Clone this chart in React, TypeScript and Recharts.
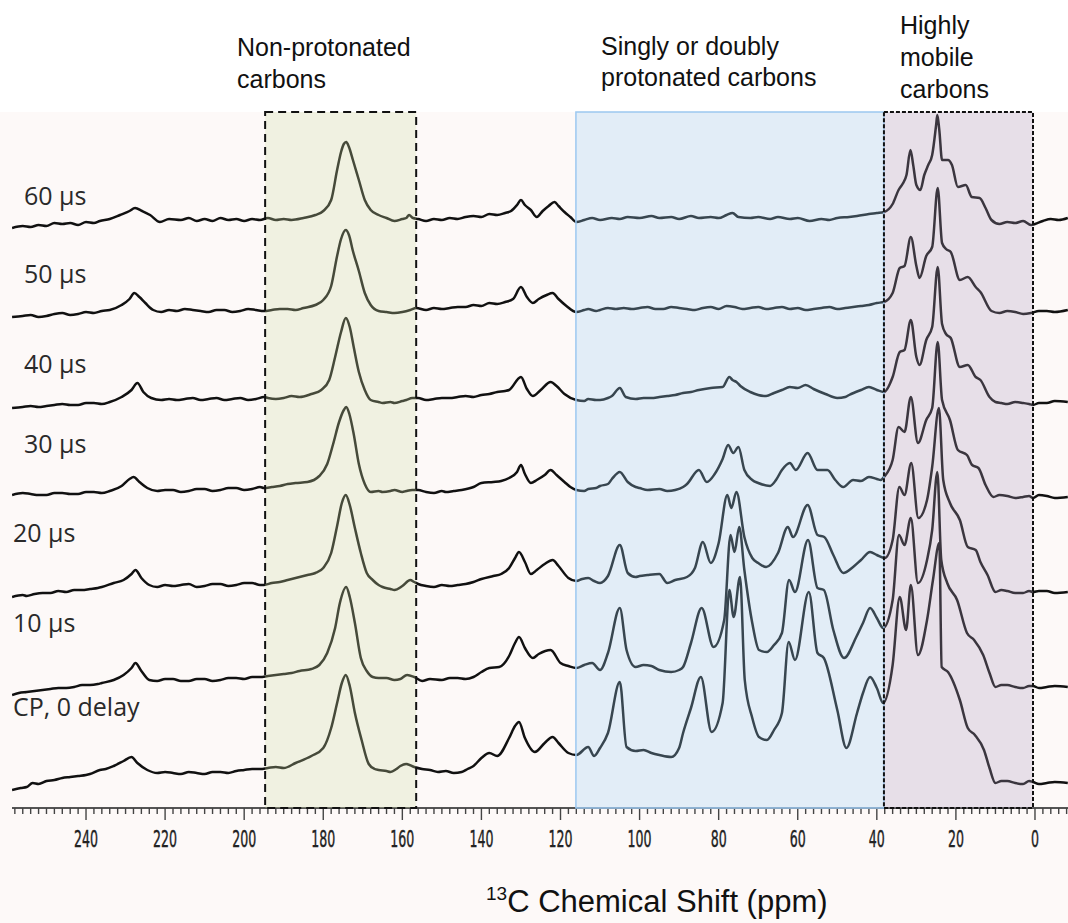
import { LineChart, Line, XAxis, YAxis, ReferenceArea } from "recharts";

// 13C CP/MAS spectra with dipolar dephasing delays, stacked bottom (CP) to top (60 µs)

type Pt = [number, number]; // [shift ppm, intensity]

const delays = ["60 µs", "50 µs", "40 µs", "30 µs", "20 µs", "10 µs", "CP, 0 delay"];
const stackOffsets = [588, 497, 406, 314, 220, 125, 30];
const axisLabels = [240, 220, 200, 180, 160, 140, 120, 100, 80, 60, 40, 20, 0];

const regions = [
  { name: "Non-protonated carbons", from: 194.7, to: 156.5 },
  { name: "Singly or doubly protonated carbons", from: 116.1, to: 38.2 },
  { name: "Highly mobile carbons", from: 38.2, to: 0.5 },
];

const trace60: Pt[] = [
  [258.7, -8], [256, -6], [254, -7], [252, -5], [250, -6], [248, -3], [246, -4], [244, -3], [242, -5],
  [240, -2], [238, -3], [236.5, -1], [234, 1], [231.4, 5], [229, 9], [227.6, 12], [225.8, 9], [223.8, 5],
  [221.3, -2], [219, 1], [216, 0], [214, 2], [212, -1], [210, 1], [208, -1], [206, 2], [204, 0], [202, 1],
  [200, -1], [198, 1], [196, 0], [194, 2], [192, 0], [190, 1], [188, 0], [185, 2], [182, 5], [180, 9],
  [178, 20], [176.5, 50], [175.5, 68], [174.8, 76], [174.2, 78], [173.5, 73], [172.5, 60], [171, 40],
  [169.5, 20], [168, 10], [166, 5], [164, 2], [162, -1], [160, 1], [159, 2], [158.3, 5], [157.3, 2],
  [156, 1], [154, -1], [152, 1], [150, 0], [148, 2], [146, 1], [144, 3], [142, 4], [140, 3], [138, 6],
  [136, 5], [134, 7], [132.5, 9], [131, 15], [130, 20], [129, 15], [127.5, 10], [126, 3], [124.5, 9],
  [123, 14], [121.5, 18], [120.5, 14], [119, 8], [117.5, 3], [116, -2], [114, 0], [112, 2], [110, 0],
  [107, 2], [105, 1], [103, 3], [100, 2], [97, 4], [95, 2], [92, 3], [90, 1], [87, 4], [85, 2], [82, 3],
  [80, 2], [78, 5], [76.5, 7], [75, 3], [72, 2], [70, 3], [67, 1], [65, 3], [62, 1], [60, 2], [57, -1],
  [54, 1], [52, 0], [50, 2], [47, 3], [45, 4], [42, 6], [40, 7], [38.2, 8], [36, 16], [34.5, 30],
  [33.5, 36], [32.5, 45], [31.5, 70], [30.8, 55], [30, 35], [29, 30], [28, 45], [27, 55], [26, 65],
  [25, 95], [24.7, 105], [24.2, 90], [23.5, 60], [22, 60], [21, 55], [19.5, 33], [17.5, 35], [16, 23],
  [14, 22], [12.5, 12], [11, 0], [9, -4], [7, -2], [5, -3], [3, -1], [1, -5], [0, -4], [-2, -1], [-4, 1],
  [-6, 0], [-8.3, 2],
];

const trace50: Pt[] = [
  [258.7, -6], [256, -5], [254, -4], [252, -6], [250, -5], [248, -3], [246, -2], [244, -4], [242, -3],
  [240, -1], [238, -2], [236, 0], [234, 1], [231, 6], [229, 12], [227.8, 18], [226.5, 14], [225, 8],
  [223, 1], [221, -1], [219, 1], [217, 0], [215, 2], [213, 1], [211, 0], [209, -1], [207, 1], [205, 1],
  [203, -1], [201, 0], [199, 2], [197, 1], [195, 0], [193, 1], [191, 2], [189, 2], [187, 1], [185, 3],
  [182, 6], [180, 11], [178, 25], [176.5, 55], [175.5, 72], [174.3, 81], [173.5, 76], [172.5, 60],
  [171, 40], [169.5, 18], [168, 6], [166, 0], [164, -1], [162, -2], [160, -1], [158, 1], [156.5, 3],
  [154, 1], [152, 3], [150, 2], [148, 3], [146, 4], [144, 4], [142, 6], [140, 5], [138, 8], [136, 7],
  [134, 9], [132, 12], [130, 24], [128.5, 14], [127, 8], [125.5, 12], [123.5, 16], [122, 18], [120.5, 12],
  [118.5, 5], [116, -1], [114, 1], [113, 2], [111, 0], [110, 1], [108, 3], [106, 2], [104, 3], [102, 2],
  [100, 3], [98, 4], [96, 2], [94, 2], [92, 4], [90, 3], [88, 2], [86, 1], [84, 3], [82, 4], [80, 2],
  [78, 5], [76, 4], [74, 2], [72, 3], [70, 4], [68, 2], [66, 3], [64, 4], [62, 2], [60, 3], [58, 1],
  [56, 2], [54, 3], [52, 4], [50, 2], [48, 3], [46, 4], [44, 5], [42, 6], [40, 8], [38.2, 9], [36, 18],
  [34.2, 43], [33, 45], [31.4, 74], [30, 45], [29.2, 33], [27.5, 55], [26, 64], [24.6, 123], [23.5, 68],
  [22.5, 62], [21.3, 59], [19, 31], [17, 34], [15, 24], [13.8, 19], [11, 0], [9, -2], [7, 0], [5, -1],
  [3, -3], [1, -2], [-1, 0], [-3, 0], [-5, -1], [-8.3, 1],
];

const trace40: Pt[] = [
  [258.7, -6], [256, -5], [254, -4], [252, -5], [250, -4], [248, -3], [246, -2], [244, -3], [242, -3],
  [240, -1], [238, -1], [236, -2], [234, 0], [231, 5], [228.5, 12], [227, 19], [225.5, 10], [223.5, 4],
  [221, 2], [219, 3], [217, 2], [215, 3], [213, 4], [211, 2], [209, 3], [207, 4], [205, 2], [203, 3],
  [201, 4], [199, 2], [197, 3], [195, 5], [194, 4], [192, 3], [190, 4], [188, 6], [186, 5], [183, 8],
  [180.5, 12], [178.5, 22], [177, 45], [175.5, 70], [174.3, 84], [173.3, 75], [172.3, 55], [171, 30],
  [169.5, 12], [168, 2], [166, 0], [165, -1], [163, 0], [162, -1], [160, 1], [159, 2], [157.5, 4],
  [156, 4], [154, 2], [152, 3], [150, 4], [148, 4], [146, 5], [144, 6], [142, 5], [140, 7], [138, 8],
  [136, 10], [134, 11], [133, 12], [130, 25], [128.5, 13], [127, 6], [125, 12], [122.5, 20], [121, 16],
  [119, 8], [116, 2], [114, 1], [113, 3], [111, 2], [110, 2], [108, 4], [107, 6], [105, 14], [103.5, 5],
  [101, 3], [99, 4], [97, 4], [95, 5], [93, 6], [91, 7], [89, 9], [87, 10], [85, 12], [82, 14], [79, 15],
  [77.3, 25], [76.5, 22], [75.5, 20], [74.5, 16], [72, 10], [70, 7], [68, 6], [66, 9], [64, 12], [62, 15],
  [60, 14], [58, 17], [56, 13], [53, 8], [50, 4], [48, 5], [47, 7], [44, 12], [42, 15], [40, 12],
  [38.2, 10], [36, 25], [34.2, 50], [33, 52], [31.4, 82], [30, 45], [29.2, 37], [27.5, 62], [26, 75],
  [24.6, 135], [23.5, 78], [22.5, 68], [21.3, 64], [19, 35], [17, 37], [15, 25], [13.8, 22], [11.5, 5],
  [10, 0], [8.5, -1], [7, -2], [5, 0], [3, -1], [1.5, -2], [0.5, -3], [-1, -1], [-3, -1], [-5, 1],
  [-8.3, 0],
];

const trace30: Pt[] = [
  [258.7, -1], [256, 1], [254, 0], [252, -1], [250, -1], [248, 1], [246, 1], [244, 0], [242, 0], [240, 2],
  [238, 2], [236, 1], [234, 3], [231, 8], [229, 15], [228, 17], [226.5, 12], [224.5, 6], [222, 3],
  [220, 4], [218, 4], [216, 2], [214, 3], [212, 5], [210, 5], [208, 3], [206, 4], [204, 6], [202, 6],
  [200, 4], [198, 5], [196, 7], [195, 6], [193, 7], [191, 8], [189, 10], [187, 11], [184, 12], [181, 18],
  [179, 30], [177.5, 50], [176, 72], [174.8, 84], [174.2, 87], [173.4, 80], [172.3, 60], [171, 30],
  [169.5, 10], [168, 2], [166, 3], [165, 2], [163, 3], [162, 4], [160, 2], [159, 3], [157.5, 4], [156, 4],
  [154, 2], [152, 1], [150, 3], [149, 2], [147, 3], [145, 4], [142, 7], [140, 11], [137, 12], [135, 13],
  [133, 16], [131, 22], [130, 29], [129, 20], [127.5, 11], [126, 14], [124, 19], [122.5, 24], [121, 19],
  [119, 12], [117.5, 7], [116, 4], [114, 3], [113, 5], [111, 6], [110, 8], [108, 10], [107, 15], [105, 22],
  [103, 12], [101, 7], [100, 6], [98, 4], [95, 5], [93, 3], [91, 4], [89, 7], [88, 10], [85, 24], [83, 12],
  [81, 20], [79, 35], [77.6, 49], [76.3, 41], [75, 47], [73.5, 24], [71.5, 14], [70, 11], [67, 8],
  [65.5, 14], [64, 24], [62, 31], [60.5, 24], [57.5, 41], [55, 24], [52.5, 24], [50.5, 14], [48.5, 7],
  [46, 14], [44, 13], [42, 17], [40, 15], [39, 14], [38.2, 17], [36, 34], [34.5, 67], [33, 62],
  [31.4, 97], [29.6, 51], [27.5, 74], [26, 86], [24.6, 152], [23.5, 94], [21.5, 74], [19.5, 44],
  [17.2, 39], [15.9, 29], [14.3, 26], [12.5, 9], [10.5, -3], [9, -1], [7, -2], [5, -4], [3, -3], [1.5, -2],
  [0.5, -4], [-1, -1], [-3, -2], [-5, -4], [-8.3, -3],
];

const trace20: Pt[] = [
  [258.7, -9], [256, -7], [255, -8], [253, -6], [251, -5], [249, -5], [247, -3], [245, -4], [243, -2],
  [241, -2], [239, -1], [237, 0], [236, 1], [233, 5], [230.5, 8], [228.5, 14], [227.5, 18], [226, 10],
  [224, 3], [222, 1], [220, 3], [218, 2], [216, 3], [214, 4], [212, 1], [210, 2], [208, 4], [206, 4],
  [204, 2], [202, 3], [200, 5], [198, 5], [196, 3], [195, 3], [193, 5], [191, 6], [189, 8], [187, 10],
  [184, 13], [182, 15], [180, 20], [178, 35], [176.5, 62], [175.3, 85], [174.3, 93], [173.3, 83], [172, 60],
  [170.5, 35], [169, 15], [167.5, 8], [166, 3], [165, 1], [163, -1], [162, -2], [160, 2], [158, 8], [157, 6],
  [156, 4], [154, 2], [152, 1], [150, 3], [148, 2], [146, 3], [144, 4], [142, 6], [140, 9], [137, 12],
  [135, 14], [133, 20], [131.5, 30], [130.5, 36], [129, 26], [127.5, 14], [126, 18], [124, 24], [122, 28],
  [120.5, 22], [118, 10], [116, 7], [114.5, 9], [113, 10], [111.5, 7], [110, 5], [108, 12], [105, 43],
  [103, 15], [101, 11], [100, 12], [98, 13], [95, 14], [93, 5], [91, 8], [88, 11], [86, 20], [84, 46],
  [82, 25], [80, 45], [77.8, 93], [76.8, 80], [75.5, 96], [73.5, 51], [71.5, 30], [70, 25], [68, 21],
  [65, 35], [62.5, 61], [61.2, 51], [57.5, 83], [55, 53], [53.3, 51], [51, 33], [48.5, 15], [46, 21],
  [44, 28], [41.7, 36], [40, 33], [38, 30], [36, 48], [34.3, 101], [33, 93], [31.3, 125], [29.5, 70],
  [27.3, 88], [26, 121], [24.3, 180], [23.2, 108], [21.5, 85], [19, 68], [17, 41], [15, 38], [13.8, 26],
  [12, 13], [10, -4], [8.5, -2], [7, -3], [5, -5], [3, -5], [1.5, -3], [0.5, -4], [-1, -3], [-3, -3],
  [-5, -5], [-8.3, -4],
];

const trace10: Pt[] = [
  [258.7, -12], [257, -10], [255, -9], [253, -8], [251, -7], [249, -6], [247, -5], [245, -5], [243, -4],
  [241, -2], [239, -2], [237, -1], [236, 0], [233, 3], [230.5, 8], [228.5, 15], [227.5, 20], [226, 12],
  [224, 3], [222, 2], [220, 4], [218, 4], [216, 2], [214, 2], [212, 4], [210, 4], [208, 2], [206, 3],
  [204, 5], [202, 5], [200, 4], [198, 6], [196, 6], [194, 7], [192, 8], [190, 9], [188, 10], [186, 12],
  [183, 14], [181, 18], [179, 30], [177, 55], [175.8, 80], [174.2, 96], [173.3, 86], [172, 60],
  [170.5, 25], [169, 12], [167.5, 6], [166, 5], [164, 5], [162, 3], [160.5, 4], [158.8, 8], [157, 6],
  [155, 2], [153, 4], [150, 3], [148, 5], [146, 5], [144, 4], [142, 6], [140, 11], [138, 15], [135.5, 16],
  [133, 27], [131.5, 40], [130.5, 46], [129, 35], [127, 25], [125.5, 29], [122.5, 33], [120, 20], [118, 17],
  [116, 15], [114, 18], [112, 20], [110, 13], [108, 30], [105, 75], [103.3, 33], [101, 16], [99, 18],
  [97, 17], [95, 13], [92, 11], [90, 13], [89, 16], [87, 40], [84.3, 75], [81.3, 36], [78.6, 63],
  [77, 148], [76, 131], [74.8, 156], [73.5, 113], [71.5, 60], [69.8, 33], [67.8, 31], [66, 38], [64, 50],
  [62.2, 103], [60.7, 91], [57.4, 143], [55, 95], [53.4, 93], [51, 53], [48.3, 25], [45.2, 46],
  [43.5, 60], [41.7, 75], [40, 65], [38.4, 55], [36, 83], [34.4, 148], [33, 138], [31.4, 165], [29.6, 100],
  [27.3, 123], [26, 153], [24.7, 211], [23.7, 123], [22.2, 100], [19.7, 83], [17.2, 50], [15.4, 43],
  [13.1, 28], [11.5, 10], [10, -4], [8.5, -2], [7, -2], [5, -4], [3, -5], [1.5, -3], [0.5, -3], [-1, -5],
  [-3, -4], [-5, -3], [-8.3, -4],
];

const traceCP: Pt[] = [
  [258.7, -12], [256.5, -10], [255, -9], [253.5, -5], [252, -6], [250, -3], [248, -2], [246, 0], [244, 1],
  [242, 2], [240, 3], [239, 4], [236.5, 8], [235, 9], [233, 12], [230.5, 17], [228.5, 21], [227, 15],
  [224.5, 8], [222, 5], [220, 6], [218, 5], [216, 4], [214, 6], [212, 5], [210, 4], [208, 6], [206, 6],
  [204, 5], [202, 7], [200, 8], [198, 9], [196, 9], [194, 10], [192, 11], [190, 10], [187, 15], [183, 22],
  [180, 30], [178, 50], [176.5, 75], [175.3, 95], [174.3, 103], [173.3, 92], [172, 65], [170.3, 38],
  [168.5, 14], [167, 9], [166, 8], [164, 7], [163, 6], [161.5, 9], [160.5, 12], [159, 14], [157, 11],
  [155, 9], [153, 8], [151, 6], [149, 7], [147, 5], [145, 6], [143.5, 9], [142, 12], [140, 20], [138, 25],
  [136, 22], [133, 40], [131.5, 52], [130.5, 56], [129, 40], [126.5, 26], [124, 35], [122, 41],
  [120.5, 35], [118, 25], [116, 23], [113, 31], [111.5, 22], [110, 30], [108, 45], [105, 96], [103.3, 31],
  [101, 27], [99, 28], [97, 25], [95, 23], [92, 21], [90, 30], [89, 45], [87, 70], [84.5, 101], [81.8, 46],
  [79, 75], [77.3, 188], [76.2, 161], [74.6, 201], [73.4, 98], [71.5, 60], [69.8, 41], [67.8, 38],
  [66, 48], [64, 65], [62.3, 136], [60.7, 118], [57.2, 186], [55, 125], [53.4, 120], [50, 68], [47.7, 30],
  [45, 65], [43.5, 85], [41.7, 101], [40, 90], [38.4, 75], [36, 113], [34.2, 181], [32.6, 148],
  [31.4, 193], [29.6, 123], [27.3, 158], [25.8, 198], [24.2, 235], [23.6, 111], [22, 106], [19, 78],
  [17, 50], [15.2, 43], [12.9, 28], [11.5, 10], [10, -5], [8.5, -3], [7, -3], [5, -5], [3, -6],
  [1.5, -3], [0.5, -4], [-1, -6], [-3, -5], [-5, -4], [-8.3, -5],
];

const traces = [trace60, trace50, trace40, trace30, trace20, trace10, traceCP];

const W = 1068;
const H = 923;
const DOMAIN: [number, number] = [-8.35, 258.72];
const minorTicks: number[] = [];
for (let t = -8; t <= 258; t += 2) minorTicks.push(t);

const labelPos = [
  { x: 24, y: 205 }, { x: 24, y: 283 }, { x: 24, y: 373 }, { x: 24, y: 453 },
  { x: 13, y: 542 }, { x: 13, y: 632 }, { x: 13, y: 716 },
];

function ShiftTick(props: any) {
  const { x, y, payload } = props;
  const v = payload.value;
  const major = axisLabels.includes(v);
  const txt = String(v);
  return (
    <g>
      <line x1={x} x2={x} y1={y} y2={y + (major ? 12 : 6)} stroke="#444" strokeWidth={1.4} />
      {major && (
        <text
          x={x}
          y={y + 39}
          textAnchor="middle"
          fontFamily="'DejaVu Sans Condensed', 'DejaVu Sans', sans-serif"
          fontSize={23}
          fill="#222"
          stroke="#222"
          strokeWidth={0.4}
          textLength={txt.length * 8}
          lengthAdjust="spacingAndGlyphs"
        >
          {txt}
        </text>
      )}
    </g>
  );
}

export default function App() {
  const series = traces.map((pts, i) => pts.map(([ppm, v]) => ({ ppm, v: v + stackOffsets[i] })));
  return (
    <div style={{ position: "absolute", left: 0, top: 0, width: W, height: H, background: "#fff", overflow: "hidden" }}>
      <div style={{ position: "absolute", left: 0, top: 112, width: W, height: H - 112, background: "#fdf9f8" }} />
      <div style={{ position: "absolute", left: 0, top: 0 }}>
        <LineChart width={W} height={H} margin={{ top: 112, right: 0, left: 12, bottom: 75 }}>
          <XAxis
            dataKey="ppm"
            type="number"
            domain={DOMAIN}
            reversed
            allowDataOverflow
            ticks={minorTicks}
            interval={0}
            height={40}
            tickSize={0}
            tickMargin={0}
            tickLine={false}
            axisLine={{ stroke: "#555", strokeWidth: 2 }}
            tick={<ShiftTick />}
          />
          <YAxis hide type="number" domain={[0, 696]} allowDataOverflow />
          {series.map((d, i) => (
            <Line
              key={delays[i]}
              data={d}
              dataKey="v"
              type="monotoneX"
              stroke="#111"
              strokeWidth={2.5}
              strokeLinejoin="round"
              dot={false}
              activeDot={false}
              isAnimationActive={false}
            />
          ))}
        </LineChart>
      </div>
      <div style={{ position: "absolute", left: 0, top: 0 }}>
        <LineChart width={W} height={H} margin={{ top: 112, right: 0, left: 12, bottom: 115 }}>
          <XAxis hide dataKey="ppm" type="number" domain={DOMAIN} reversed allowDataOverflow />
          <YAxis hide type="number" domain={[0, 696]} allowDataOverflow />
          <ReferenceArea x1={regions[0].from} x2={regions[0].to} y1={0} y2={696} fill="#cfdda4" fillOpacity={0.28}
            stroke="#111" strokeWidth={2} strokeDasharray="8 5" ifOverflow="visible" />
          <ReferenceArea x1={regions[1].from} x2={regions[1].to} y1={0} y2={696} fill="#9dcff5" fillOpacity={0.28}
            stroke="#9cc8f0" strokeWidth={1.5} ifOverflow="visible" />
          <ReferenceArea x1={regions[2].from} x2={regions[2].to} y1={0} y2={696} fill="#ae9bbd" fillOpacity={0.27}
            stroke="#111" strokeWidth={2} strokeDasharray="4 2" ifOverflow="visible" />
        </LineChart>
      </div>
      <svg width={W} height={H} style={{ position: "absolute", left: 0, top: 0 }}>
        <g fontFamily="'Liberation Sans', Arial, sans-serif" fontSize={25} fill="#111">
          <text x={237} y={56}>Non-protonated</text>
          <text x={237} y={88}>carbons</text>
          <text x={601} y={55}>Singly or doubly</text>
          <text x={601} y={86}>protonated carbons</text>
          <text x={900} y={34}>Highly</text>
          <text x={900} y={66}>mobile</text>
          <text x={900} y={98}>carbons</text>
        </g>
        <g fontFamily="'Open Sans', 'Noto Sans', sans-serif" fontSize={25} fill="#2a2a2a">
          {delays.map((d, i) => (
            <text key={d} x={labelPos[i].x} y={labelPos[i].y}>{d}</text>
          ))}
        </g>
        <text x={486} y={912} fontFamily="'Liberation Sans', Arial, sans-serif" fill="#111">
          <tspan fontSize={19} dy={-12}>13</tspan>
          <tspan fontSize={31} dy={12}>C Chemical Shift (ppm)</tspan>
        </text>
      </svg>
    </div>
  );
}
